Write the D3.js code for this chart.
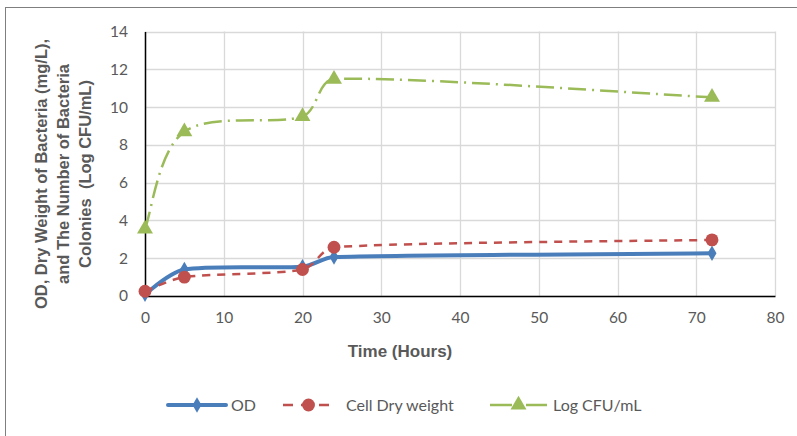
<!DOCTYPE html>
<html>
<head>
<meta charset="utf-8">
<script src="https://cdn.jsdelivr.net/npm/d3@7"></script>
<style>
  body { margin: 0; background: #fff; }
  svg text { font-family: Lato, "Liberation Sans", sans-serif; }
</style>
</head>
<body>
<div id="chart"></div>
<script>
// time points (hours)
var hours = [0, 5, 20, 24, 72];
var odValues = [0.1, 1.4, 1.55, 2.06, 2.26];
var dryWeight = [0.25, 1.0, 1.4, 2.58, 2.97];
var logCfu = [3.55, 8.7, 9.5, 11.48, 10.52];
var xTicks = [0, 10, 20, 30, 40, 50, 60, 70, 80];
var yTicks = [0, 2, 4, 6, 8, 10, 12, 14];
var seriesNames = ['OD', 'Cell Dry weight', 'Log CFU/mL'];

var width = 797, height = 436;
var plot = {left: 145, right: 775, top: 31.5, bottom: 296};

// smoothed line like the spreadsheet one: cardinal tangents, capped so short segments don't loop
function SmoothCurve(context) { this._context = context; }
SmoothCurve.prototype = {
    areaStart: function() { this._line = 0; },
    areaEnd: function() { this._line = NaN; },
    lineStart: function() { this._pts = []; },
    point: function(x, y) { this._pts.push([+x, +y]); },
    lineEnd: function() {
        var p = this._pts, n = p.length, c = this._context;
        if (!n) return;
        c.moveTo(p[0][0], p[0][1]);
        if (n === 1) return;
        var tan = p.map(function(d, i) {
            var a = p[Math.max(i - 1, 0)], b = p[Math.min(i + 1, n - 1)];
            return [(b[0] - a[0]) / 6, (b[1] - a[1]) / 6];
        });
        function capped(t, len) {
            var l = Math.sqrt(t[0] * t[0] + t[1] * t[1]);
            var s = l > len / 3 ? (len / 3) / l : 1;
            return [t[0] * s, t[1] * s];
        }
        for (var i = 0; i < n - 1; i++) {
            var a = p[i], b = p[i + 1];
            var len = Math.sqrt((b[0] - a[0]) * (b[0] - a[0]) + (b[1] - a[1]) * (b[1] - a[1]));
            var t1 = capped(tan[i], len), t2 = capped(tan[i + 1], len);
            c.bezierCurveTo(a[0] + t1[0], a[1] + t1[1], b[0] - t2[0], b[1] - t2[1], b[0], b[1]);
        }
    }
};
function smoothCurve(context) { return new SmoothCurve(context); }

var svg = d3.select('#chart').append('svg')
    .attr('width', width)
    .attr('height', height);

// chart frame
svg.append('rect')
    .attr('x', 5.5).attr('y', 7.5)
    .attr('width', 800).attr('height', 440)
    .attr('fill', 'none')
    .attr('stroke', '#7f7f7f')
    .attr('stroke-width', 1);

var x = d3.scaleLinear().domain([0, 80]).range([plot.left, plot.right]);
var y = d3.scaleLinear().domain([0, 14]).range([plot.bottom, plot.top]);

// gridlines
svg.append('g').selectAll('line.h').data(yTicks).enter().append('line')
    .attr('x1', plot.left).attr('x2', plot.right)
    .attr('y1', function(d) { return Math.round(y(d)) + 0.5; })
    .attr('y2', function(d) { return Math.round(y(d)) + 0.5; })
    .attr('stroke', '#d9d9d9').attr('stroke-width', 1.3);
svg.append('g').selectAll('line.v').data(xTicks).enter().append('line')
    .attr('y1', plot.top).attr('y2', plot.bottom)
    .attr('x1', function(d) { return Math.round(x(d)) + 0.5; })
    .attr('x2', function(d) { return Math.round(x(d)) + 0.5; })
    .attr('stroke', '#d9d9d9').attr('stroke-width', 1.3);

// axes
var xAxis = svg.append('g')
    .attr('transform', 'translate(0,' + plot.bottom + ')')
    .call(d3.axisBottom(x).tickValues(xTicks).tickSize(0).tickPadding(16));
xAxis.select('.domain').attr('stroke', '#000').attr('stroke-width', 1.5);
xAxis.selectAll('text').attr('font-size', 15.5).attr('fill', '#595959')
    .style('font-family', 'Lato, sans-serif');

var yAxis = svg.append('g')
    .attr('transform', 'translate(' + plot.left + ',0)')
    .call(d3.axisLeft(y).tickValues(yTicks).tickSize(0).tickPadding(17));
yAxis.select('.domain').attr('stroke', '#000').attr('stroke-width', 1.5);
yAxis.selectAll('text').attr('font-size', 15.5).attr('fill', '#595959')
    .style('font-family', 'Lato, sans-serif');

// axis titles
svg.append('text')
    .attr('x', 400).attr('y', 357)
    .attr('text-anchor', 'middle')
    .attr('font-size', 17).attr('font-weight', 'bold').attr('fill', '#595959')
    .style('font-family', '"Liberation Sans", Arial, sans-serif')
    .text('Time (Hours)');

var yTitle = ['OD, Dry Weight of Bacteria (mg/L),', 'and The Number of Bacteria', 'Colonies  (Log CFU/mL)'];
svg.append('g')
    .attr('transform', 'translate(47,174) rotate(-90)')
    .selectAll('text').data(yTitle).enter().append('text')
    .attr('x', 0)
    .attr('y', function(d, i) { return i * 22; })
    .attr('text-anchor', 'middle')
    .attr('font-size', 16.5).attr('font-weight', 'bold').attr('fill', '#595959')
    .style('font-family', '"Liberation Sans", Arial, sans-serif')
    .style('white-space', 'pre')
    .text(function(d) { return d; });

// series
var series = [
    {name: seriesNames[0], values: odValues, color: '#4a7ebb', width: 4, dash: null, marker: 'diamond'},
    {name: seriesNames[1], values: dryWeight, color: '#c0504d', width: 2.5, dash: '8,7', marker: 'circle'},
    {name: seriesNames[2], values: logCfu, color: '#9bbb59', width: 2.5, dash: '18,6,2,6', marker: 'triangle'}
];

var line = d3.line()
    .x(function(d) { return x(d[0]); })
    .y(function(d) { return y(d[1]); })
    .curve(smoothCurve);

var symbols = {
    diamond: d3.symbol().type(d3.symbolDiamond).size(70),
    circle: d3.symbol().type(d3.symbolCircle).size(130),
    triangle: d3.symbol().type(d3.symbolTriangle).size(110)
};

series.forEach(function(s) {
    var pts = hours.map(function(h, i) { return [h, s.values[i]]; });
    svg.append('path')
        .attr('d', line(pts))
        .attr('fill', 'none')
        .attr('stroke', s.color)
        .attr('stroke-width', s.width)
        .attr('stroke-dasharray', s.dash)
        .attr('stroke-linecap', s.dash ? 'butt' : 'round');
    svg.append('g').selectAll('path').data(pts).enter().append('path')
        .attr('d', symbols[s.marker])
        .attr('transform', function(d) { return 'translate(' + x(d[0]) + ',' + y(d[1]) + ')'; })
        .attr('fill', s.color);
});

// legend
var legendItems = [
    {lx1: 168, lx2: 226, tx: 231},
    {lx1: 283, lx2: 334, tx: 346},
    {lx1: 490, lx2: 547, tx: 553}
];
var ly = 405;
var legend = svg.append('g').selectAll('g').data(series).enter().append('g');
legend.append('line')
    .attr('x1', function(d, i) { return legendItems[i].lx1; })
    .attr('x2', function(d, i) { return legendItems[i].lx2; })
    .attr('y1', ly).attr('y2', ly)
    .attr('stroke', function(d) { return d.color; })
    .attr('stroke-width', function(d) { return d.width; })
    .attr('stroke-dasharray', function(d, i) { return i === 1 ? '10,8' : (i === 2 ? '22,6,2,6' : null); })
    .attr('stroke-linecap', function(d) { return d.dash ? 'butt' : 'round'; });
legend.append('path')
    .attr('d', function(d) { return symbols[d.marker](); })
    .attr('transform', function(d, i) {
        return 'translate(' + (legendItems[i].lx1 + legendItems[i].lx2) / 2 + ',' + ly + ')';
    })
    .attr('fill', function(d) { return d.color; });
legend.append('text')
    .attr('x', function(d, i) { return legendItems[i].tx; })
    .attr('y', ly + 5.5)
    .attr('font-size', 16).attr('fill', '#595959')
    .text(function(d) { return d.name; });
</script>
</body>
</html>
